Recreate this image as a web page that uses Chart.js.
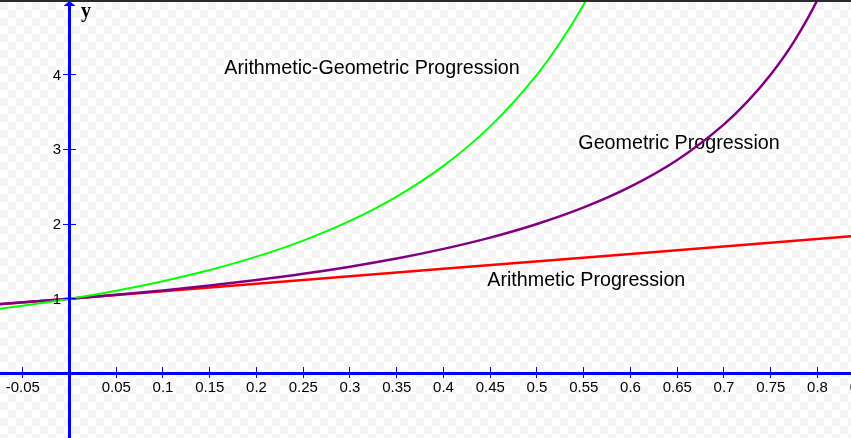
<!DOCTYPE html>
<html>
<head>
<meta charset="utf-8">
<script src="https://cdn.jsdelivr.net/npm/chart.js@4.4.1/dist/chart.umd.min.js"></script>
<style>
  html, body { margin: 0; padding: 0; }
  body {
    width: 851px; height: 438px; overflow: hidden; position: relative;
    background: repeating-conic-gradient(#ffffff 0 25%, #f5f5f5 0 50%) 0 2px / 16px 16px;
  }
  #topbar { position: absolute; left: 0; top: 0; width: 851px; height: 2px; background: #2b2b2b; }
  canvas { position: absolute; left: 0; top: 0; }
</style>
</head>
<body>
<canvas id="c" width="851" height="438"></canvas>
<div id="topbar"></div>
<script>
// ---- data ----
const arithX = [-0.075, 0.0, 0.2, 0.4, 0.6, 0.85];
const arithY = [0.925, 1.0, 1.2, 1.4, 1.6, 1.85];

const geoX = [-0.075, -0.05, 0.0, 0.05, 0.1, 0.15, 0.2, 0.25, 0.3, 0.35, 0.4, 0.45, 0.5, 0.55, 0.6, 0.65, 0.7, 0.725, 0.75, 0.775, 0.8, 0.825, 0.85];
const geoY = [0.930, 0.952, 1.0, 1.053, 1.111, 1.176, 1.25, 1.333, 1.429, 1.538, 1.667, 1.818, 2.0, 2.222, 2.5, 2.857, 3.333, 3.636, 4.0, 4.444, 5.0, 5.714, 6.667];

const agX = [-0.075, -0.05, 0.0, 0.05, 0.1, 0.15, 0.2, 0.25, 0.3, 0.35, 0.4, 0.45, 0.5, 0.525, 0.55, 0.575, 0.6];
const agY = [0.865, 0.907, 1.0, 1.108, 1.235, 1.384, 1.563, 1.778, 2.041, 2.367, 2.778, 3.306, 4.0, 4.432, 4.938, 5.536, 6.25];

const xTickValues = [-0.05, 0.05, 0.1, 0.15, 0.2, 0.25, 0.3, 0.35, 0.4, 0.45, 0.5, 0.55, 0.6, 0.65, 0.7, 0.75, 0.8, 0.85];
const yTickValues = [1, 2, 3, 4];
const seriesNames = ['Arithmetic-Geometric Progression', 'Geometric Progression', 'Arithmetic Progression'];

// ---- layout / style ----
const labelAnchors = [
  { text: seriesNames[0], x: 0.1656, y: 4.013 },
  { text: seriesNames[1], x: 0.5442, y: 3.003 },
  { text: seriesNames[2], x: 0.4468, y: 1.1706 }
];

function pts(xs, ys) { return xs.map((x, i) => ({ x: x, y: ys[i] })); }
function fmt(v) { return String(Number(v.toFixed(2))); }

const axesPlugin = {
  id: 'mathAxes',
  beforeDatasetsDraw(chart) {
    const ctx = chart.ctx, xs = chart.scales.x, ys = chart.scales.y;
    ctx.save();
    ctx.fillStyle = '#000';
    ctx.font = '19.7px "Liberation Sans", Arial, sans-serif';
    ctx.textAlign = 'left';
    ctx.textBaseline = 'alphabetic';
    labelAnchors.forEach(a => {
      ctx.fillText(a.text, xs.getPixelForValue(a.x), ys.getPixelForValue(a.y));
    });
    ctx.restore();
  },
  afterDatasetsDraw(chart) {
    const ctx = chart.ctx, xs = chart.scales.x, ys = chart.scales.y;
    const W = chart.width, H = chart.height;
    const x0 = xs.getPixelForValue(0), y0 = ys.getPixelForValue(0);
    ctx.save();
    ctx.fillStyle = '#0000ff';
    ctx.fillRect(Math.round(x0 - 1.5), 0, 3, H);
    ctx.fillRect(0, Math.round(y0 - 1.5), W, 3);
    // x ticks
    xTickValues.forEach(v => {
      const px = Math.floor(xs.getPixelForValue(v));
      ctx.fillRect(px, Math.round(y0) - 6, 1, 11);
    });
    yTickValues.forEach(v => {
      const py = Math.floor(ys.getPixelForValue(v));
      ctx.fillRect(Math.round(x0) - 6, py, 13, 1);
    });
    // arrow
    ctx.beginPath();
    ctx.moveTo(x0 - 6, 6);
    ctx.lineTo(x0, 1);
    ctx.lineTo(x0 + 6, 6);
    ctx.closePath();
    ctx.fill();
    // labels
    ctx.fillStyle = '#000';
    ctx.font = '15px "Liberation Sans", Arial, sans-serif';
    ctx.textAlign = 'center';
    ctx.textBaseline = 'alphabetic';
    xTickValues.forEach(v => {
      ctx.fillText(fmt(v), xs.getPixelForValue(v), Math.round(y0) + 19);
    });
    ctx.textAlign = 'right';
    ctx.textBaseline = 'middle';
    yTickValues.forEach(v => {
      ctx.fillText(fmt(v), Math.round(x0) - 8, ys.getPixelForValue(v) + 1);
    });
    // axis name
    ctx.font = 'bold 20px "Liberation Serif", "Times New Roman", serif';
    ctx.textAlign = 'left';
    ctx.textBaseline = 'alphabetic';
    ctx.fillText('y', Math.round(x0) + 12, 17);
    ctx.restore();
  }
};

new Chart(document.getElementById('c'), {
  type: 'line',
  data: {
    datasets: [
      { label: seriesNames[0], data: pts(agX, agY), borderColor: '#00ff00', borderWidth: 2, pointRadius: 0, cubicInterpolationMode: 'monotone', fill: false },
      { label: seriesNames[1], data: pts(geoX, geoY), borderColor: '#800080', borderWidth: 2.5, pointRadius: 0, cubicInterpolationMode: 'monotone', fill: false },
      { label: seriesNames[2], data: pts(arithX, arithY), borderColor: '#ff0000', borderWidth: 2.5, pointRadius: 0, tension: 0, fill: false }
    ]
  },
  options: {
    responsive: false,
    animation: false,
    events: [],
    layout: { padding: 0 },
    plugins: { legend: { display: false }, tooltip: { enabled: false } },
    scales: {
      x: { type: 'linear', min: -0.07433, max: 0.83583, display: false },
      y: { type: 'linear', min: -0.8629, max: 4.9967, display: false }
    }
  },
  plugins: [axesPlugin]
});
</script>
</body>
</html>
